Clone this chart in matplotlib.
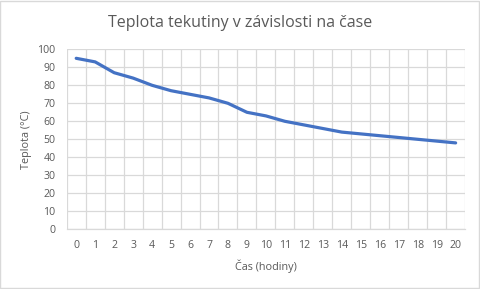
import matplotlib
matplotlib.use("Agg")
import matplotlib.pyplot as plt
import numpy as np
from matplotlib.patches import Rectangle

hours = list(range(0, 21))
temps = [95, 93, 87, 84, 80, 77, 75, 73, 70, 65, 63, 60, 58, 56, 54, 53, 52, 51, 50, 49, 48]
y_ticks = list(range(0, 101, 10))

plt.rcParams['font.family'] = ['Open Sans', 'DejaVu Sans']
txt = '#595959'
grid = '#D9D9D9'

fig = plt.figure(figsize=(4.8, 2.89), dpi=100)
ax = fig.add_axes([0.139, 0.2066, 0.830, 0.6228])

ax.plot(hours, temps, color='#4472C4', linewidth=2.3, solid_capstyle='round', solid_joinstyle='round', zorder=3)

ax.set_xlim(-0.5, 20.5)
ax.set_ylim(0, 100)
ax.set_yticks(y_ticks)
ax.set_xticks(hours)
ax.set_xticks(np.arange(-0.5, 21, 1), minor=True)
ax.grid(True, which='minor', axis='x', color=grid, linewidth=0.9)
ax.grid(True, which='major', axis='y', color=grid, linewidth=0.9)
ax.set_axisbelow(True)
for s in ['top', 'right', 'left']:
    ax.spines[s].set_visible(False)
ax.spines['bottom'].set_color(grid)
ax.spines['bottom'].set_linewidth(0.9)
ax.tick_params(axis='both', which='both', length=0, labelsize=7.6, labelcolor=txt)
ax.tick_params(axis='x', pad=8)
ax.tick_params(axis='y', pad=8)

ax.set_xlabel('Čas (hodiny)', fontsize=7.8, color=txt, labelpad=6)
ax.set_ylabel('Teplota (°C)', fontsize=7.8, color=txt, labelpad=4)
fig.text(0.5, 0.922, 'Teplota tekutiny v závislosti na čase', ha='center', va='center', fontsize=11.5, color=txt)

fig.patches.append(Rectangle((0.001, 0.002), 0.997, 0.995, transform=fig.transFigure,
                             fill=False, edgecolor=grid, linewidth=1))

fig.savefig('out.png', dpi=100)
